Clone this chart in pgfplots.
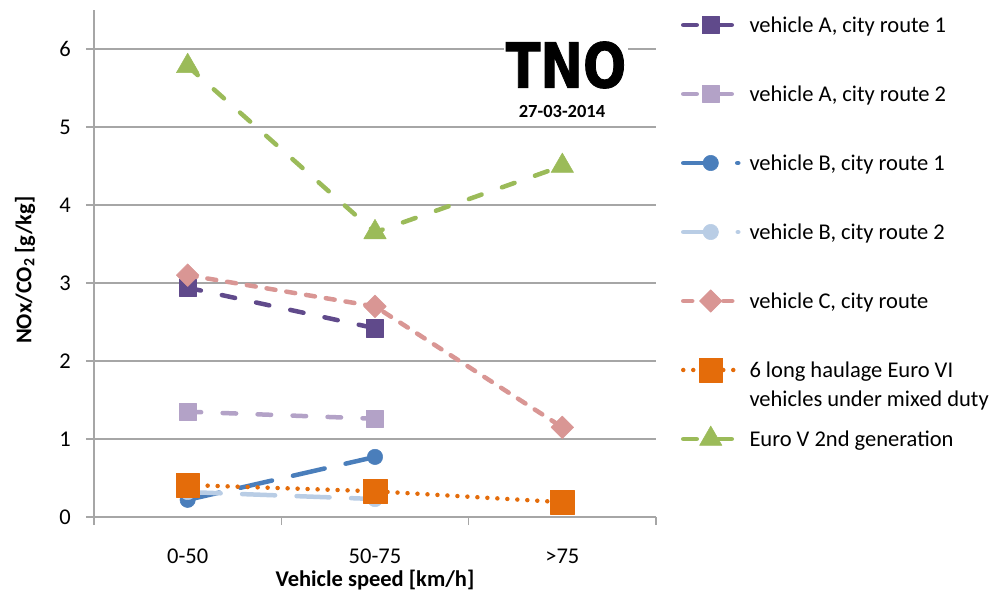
\documentclass[border=0pt]{standalone}
\usepackage{fontspec}
\setmainfont{Carlito}
\newfontfamily\logofont{DejaVu Sans}[BoldFeatures={FakeBold=1.5}]
\usepackage{graphicx}
\usepackage{pgfplots}
\pgfplotsset{compat=1.18}
\definecolor{gridc}{HTML}{A6A6A6}
\definecolor{cAa}{HTML}{604A8B}
\definecolor{cAb}{HTML}{B3A2C7}
\definecolor{cBa}{HTML}{4A7EBB}
\definecolor{cBb}{HTML}{B9CDE5}
\definecolor{cC}{HTML}{D99694}
\definecolor{cD}{HTML}{E46C0A}
\definecolor{cE}{HTML}{9BBB59}
\begin{document}
\begin{tikzpicture}
\begin{axis}[
  scale only axis, width=562pt, height=507pt,
  font=\fontsize{22.5}{27}\selectfont,
  /pgf/number format/assume math mode=true,
  xmin=-0.5, xmax=2.5, ymin=0, ymax=6.5,
  axis x line*=bottom, axis y line*=left,
  axis line style={gridc, line width=1.5pt, -},
  xtick={0,1,2}, xticklabels={0-50,50-75,>75},
  minor xtick={-0.5,0.5,1.5,2.5},
  ytick={0,1,2,3,4,5,6},
  ymajorgrids, grid style={gridc, line width=1.5pt},
  tick align=outside,
  major tick length=8pt, minor tick length=8pt,
  tick style={gridc, line width=1.5pt},
  major x tick style={draw=none},
  xticklabel style={anchor=north, inner sep=0pt, yshift=-23.5pt},
  yticklabel style={anchor=east, inner sep=0pt, xshift=-15pt},
  xlabel={\bfseries Vehicle speed [km/h]},
  ylabel={\bfseries NOx/CO\textsubscript{2} [g/kg]},
  x label style={at={(axis description cs:0.5,-0.124)}, anchor=center},
  y label style={at={(axis description cs:-0.1228,0.487)}, anchor=center},
  legend style={at={(rel axis cs:1,1)}, anchor=north west, xshift=25pt, yshift=1pt,
    draw=none, fill=none, inner sep=0pt, outer sep=0pt, row sep=0pt, column sep=9pt,
    cells={anchor=base west},
    nodes={inner sep=0pt, text height=24pt, text depth=45pt}},
  legend image code/.code={\draw[mark repeat=2,mark phase=2,yshift=8pt,#1] plot coordinates {(0pt,0pt)(27.5pt,0pt)(55pt,0pt)};},
  every axis plot/.append style={line width=4.5pt, line cap=round, line join=round},
]
\addplot[cAa, dash pattern=on 13.5pt off 21.5pt, mark=square*, mark size=8.7pt, mark options={solid, fill=cAa, line width=0.5pt}]
  coordinates {(0,2.94)(1,2.42)};
\addlegendentry{vehicle A, city route 1}
\addplot[cAb, dash pattern=on 13.5pt off 21.5pt, mark=square*, mark size=8.3pt, mark options={solid, fill=cAb, line width=0.5pt}]
  coordinates {(0,1.35)(1,1.26)};
\addlegendentry{vehicle A, city route 2}
\addplot[cBa, dash pattern=on 32.5pt off 21.5pt, mark=*, mark size=7.7pt, mark options={solid, fill=cBa, line width=0.5pt}]
  coordinates {(0,0.22)(1,0.77)};
\addlegendentry{vehicle B, city route 1}
\addplot[cBb, dash pattern=on 33pt off 21.5pt, mark=*, mark size=7.7pt, mark options={solid, fill=cBb, line width=0.5pt}]
  coordinates {(0,0.32)(1,0.23)};
\addlegendentry{vehicle B, city route 2}
\addplot[cC, dash pattern=on 9pt off 11pt, mark=square*, mark size=8pt, mark options={solid, fill=cC, line width=0.5pt, rotate=45}]
  coordinates {(0,3.10)(1,2.70)(2,1.15)};
\addlegendentry{vehicle C, city route}
\addplot[cD, dash pattern=on 0pt off 10pt, mark=square*, mark size=11.8pt, mark options={solid, fill=cD, line width=0.5pt}]
  coordinates {(0,0.41)(1,0.33)(2,0.19)};
\addlegendentry{\begin{tabular}[t]{@{}l@{}}6 long haulage Euro VI\\[2pt]vehicles under mixed duty\end{tabular}}
\addplot[cE, dash pattern=on 13.5pt off 21.5pt, mark=triangle*, mark size=13pt, mark options={solid, fill=cE, line width=0.5pt}]
  coordinates {(0,5.78)(1,3.65)(2,4.50)};
\addlegendentry{Euro V 2nd generation}
\end{axis}
\node[fill=white, inner sep=0pt, minimum width=124pt, minimum height=40pt] at (472pt,452pt)
  {\logofont\bfseries\fontsize{62}{62}\selectfont\scalebox{0.82}[1]{TNO}};
\node[inner sep=0pt] at (468pt,405pt) {\bfseries\fontsize{18.5}{20}\selectfont 27-03-2014};
\pgfresetboundingbox
\path[use as bounding box] (-94pt,-77pt) rectangle (910pt,517pt);
\end{tikzpicture}
\end{document}
